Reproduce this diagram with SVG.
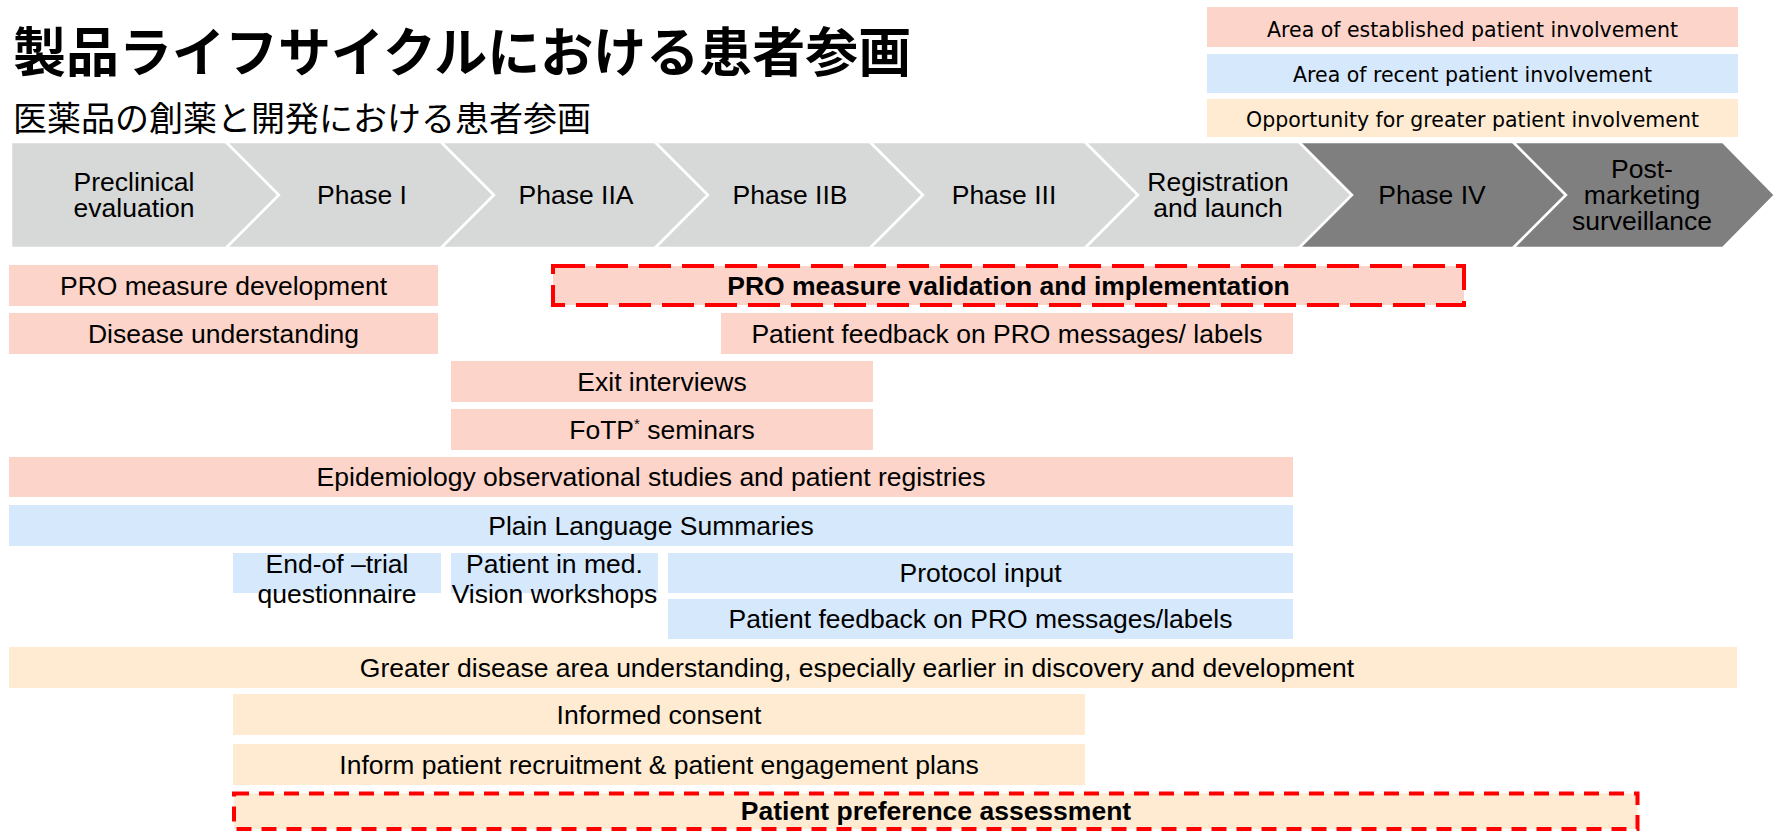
<svg xmlns="http://www.w3.org/2000/svg" width="1774" height="832" viewBox="0 0 1774 832">
<style>
.bg{fill:#FFFFFF}
.r{fill:#FCD4C9}
.b{fill:#D5E8FC}
.o{fill:#FEEBD2}
.cl{fill:#D7D8D8;stroke:#FFFFFF;stroke-width:2.5;stroke-linejoin:miter}
.cd{fill:#7F7F7F;stroke:#FFFFFF;stroke-width:2.5;stroke-linejoin:miter}
.t{font-family:"Liberation Sans",Arial,sans-serif;font-size:26.5px;fill:#000;text-anchor:middle}
.tb{font-weight:bold}
.leg{font-family:"DejaVu Sans",Verdana,sans-serif;font-size:20.5px;fill:#000;text-anchor:middle}
.h1{font-family:"Noto Sans CJK JP","Noto Sans CJK SC",sans-serif;font-size:53px;font-weight:bold;fill:#000}
.h2{font-family:"Noto Sans CJK JP","Noto Sans CJK SC",sans-serif;font-size:34px;fill:#000}
.dl{fill:none;stroke:#FF0000;stroke-width:4;stroke-dasharray:32 11}
.ds{fill:none;stroke:#FF0000;stroke-width:4;stroke-dasharray:15 10}
</style>
<rect class="bg" x="0" y="0" width="1774" height="832"/>

<g id="title">
<text class="h1" x="13" y="71.5">製品ライフサイクルにおける患者参画</text>
<text class="h2" x="13" y="131">医薬品の創薬と開発における患者参画</text>
</g>

<g id="legend">
<g id="legend-established"><rect class="r" x="1207" y="7" width="531" height="40"/><text class="leg" x="1472.5" y="37">Area of established patient involvement</text></g>
<g id="legend-recent"><rect class="b" x="1207" y="54" width="531" height="39"/><text class="leg" x="1472.5" y="82">Area of recent patient involvement</text></g>
<g id="legend-opportunity"><rect class="o" x="1207" y="99" width="531" height="38"/><text class="leg" x="1472.5" y="127">Opportunity for greater patient involvement</text></g>
</g>

<g id="phases">
<g id="phase-preclinical"><polygon class="cl" points="11,142 226,142 279,195 226,248 11,248"/>
<text class="t" x="134" y="191"><tspan x="134">Preclinical</tspan><tspan x="134" dy="26">evaluation</tspan></text></g>
<g id="phase-1"><polygon class="cl" points="226,142 441,142 494,195 441,248 226,248 279,195"/>
<text class="t" x="362" y="204">Phase I</text></g>
<g id="phase-2a"><polygon class="cl" points="441,142 655,142 708,195 655,248 441,248 494,195"/>
<text class="t" x="576" y="204">Phase IIA</text></g>
<g id="phase-2b"><polygon class="cl" points="655,142 870,142 923,195 870,248 655,248 708,195"/>
<text class="t" x="790" y="204">Phase IIB</text></g>
<g id="phase-3"><polygon class="cl" points="870,142 1085,142 1138,195 1085,248 870,248 923,195"/>
<text class="t" x="1004" y="204">Phase III</text></g>
<g id="phase-registration"><polygon class="cl" points="1085,142 1299,142 1352,195 1299,248 1085,248 1138,195"/>
<text class="t" x="1218" y="191"><tspan x="1218">Registration</tspan><tspan x="1218" dy="26">and launch</tspan></text></g>
<g id="phase-4"><polygon class="cd" points="1299,142 1513,142 1566,195 1513,248 1299,248 1352,195"/>
<text class="t" x="1432" y="204">Phase IV</text></g>
<g id="phase-post"><polygon class="cd" points="1513,142 1723,142 1775,195 1723,248 1513,248 1566,195"/>
<text class="t" x="1642" y="178"><tspan x="1642">Post-</tspan><tspan x="1642" dy="26">marketing</tspan><tspan x="1642" dy="26">surveillance</tspan></text></g>
</g>

<g id="bars">
<g id="pro-dev"><rect class="r" x="9" y="265" width="429" height="41"/><text class="t" x="223.5" y="294.5">PRO measure development</text></g>
<g id="disease"><rect class="r" x="9" y="313" width="429" height="41"/><text class="t" x="223.5" y="342.5">Disease understanding</text></g>
<g id="pro-validation"><rect class="r" x="553" y="266" width="911" height="39"/><rect class="dl" x="553" y="266" width="911" height="39"/><text class="t tb" x="1008.5" y="294.5">PRO measure validation and implementation</text></g>
<g id="feedback-red"><rect class="r" x="721" y="313" width="572" height="41"/><text class="t" x="1007" y="342.5">Patient feedback on PRO messages/ labels</text></g>
<g id="exit"><rect class="r" x="451" y="361" width="422" height="41"/><text class="t" x="662" y="390.5">Exit interviews</text></g>
<g id="fotp"><rect class="r" x="451" y="409" width="422" height="41"/><text class="t" x="662" y="438.5">FoTP<tspan font-size="15" dy="-10">*</tspan><tspan dy="10"> seminars</tspan></text></g>
<g id="epidemiology"><rect class="r" x="9" y="457" width="1284" height="40"/><text class="t" x="651" y="486">Epidemiology observational studies and patient registries</text></g>
<g id="pls"><rect class="b" x="9" y="505" width="1284" height="41"/><text class="t" x="651" y="534.5">Plain Language Summaries</text></g>
<g id="end-of-trial"><rect class="b" x="233" y="553" width="208" height="40"/><text class="t" x="337" y="573"><tspan x="337">End-of –trial</tspan><tspan x="337" dy="30">questionnaire</tspan></text></g>
<g id="patient-in-med"><rect class="b" x="451" y="553" width="207" height="40"/><text class="t" x="554.5" y="573"><tspan x="554.5">Patient in med.</tspan><tspan x="554.5" dy="30">Vision workshops</tspan></text></g>
<g id="protocol"><rect class="b" x="668" y="553" width="625" height="40"/><text class="t" x="980.5" y="582">Protocol input</text></g>
<g id="feedback-blue"><rect class="b" x="668" y="599" width="625" height="40"/><text class="t" x="980.5" y="628">Patient feedback on PRO messages/labels</text></g>
<g id="greater"><rect class="o" x="9" y="647" width="1728" height="41"/><text class="t" x="857" y="676.5">Greater disease area understanding, especially earlier in discovery and development</text></g>
<g id="consent"><rect class="o" x="233" y="694" width="852" height="41"/><text class="t" x="659" y="723.5">Informed consent</text></g>
<g id="recruitment"><rect class="o" x="233" y="744" width="852" height="41"/><text class="t" x="659" y="773.5">Inform patient recruitment &amp; patient engagement plans</text></g>
<g id="preference"><rect class="o" x="234" y="793.5" width="1403.5" height="35.5"/><rect class="ds" x="234" y="793.5" width="1403.5" height="35.5"/><text class="t tb" x="936" y="820">Patient preference assessment</text></g>
</g>

<g id="connectors"></g>
</svg>
